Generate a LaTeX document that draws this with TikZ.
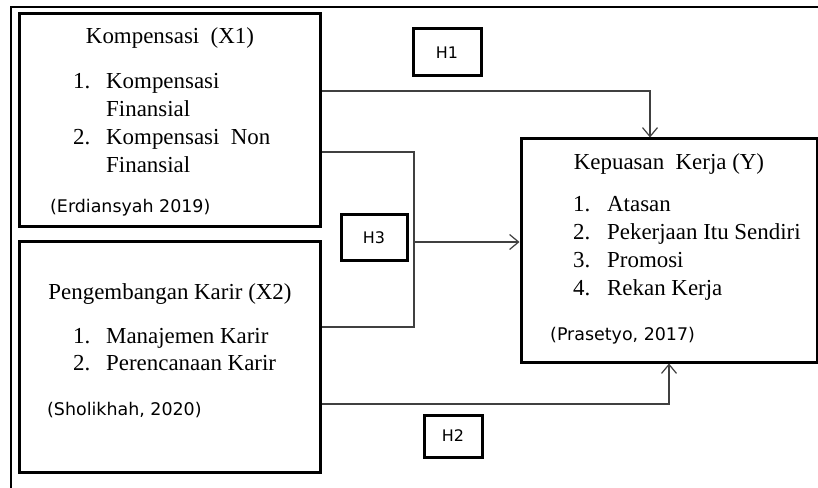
\documentclass[tikz,border=0pt]{standalone}
\usepackage{fontspec}
\setmainfont{Liberation Serif}
\newfontfamily\citefont{DejaVu Sans}
\usetikzlibrary{arrows.meta}

\begin{document}
\begin{tikzpicture}[
        x=1bp, y=-1bp,
        var/.style={rectangle, draw, line width=3bp, inner sep=0pt},
        hyp/.style={rectangle, draw, line width=3bp, font=\citefont\fontsize{16}{19}\selectfont},
        title/.style={anchor=base, inner sep=0pt, font=\fontsize{23}{28}\selectfont},
        items/.style={anchor=base west, inner sep=0pt, font=\fontsize{23}{27.8}\selectfont},
        source/.style={anchor=base west, inner sep=0pt, font=\citefont\fontsize{17.5}{21}\selectfont},
        line/.style={draw=black!75, line width=1.2bp},
        link/.style={line, -{Straight Barb[length=9bp, width=15bp]}}
    ]
    \useasboundingbox (0,0) rectangle (818,488);

    % Frame
    \draw[line width=2.5bp] (11,488) -- (11,7) -- (818,7);

    % Variables
    \node[var, minimum width=300bp, minimum height=212bp] (x1) at (170,120) {};
    \node[var, minimum width=300bp, minimum height=230bp] (x2) at (170,357) {};
    \node[var, minimum width=296bp, minimum height=223bp] (y) at (669,250.5) {};

    \node[title] (x1title) at (170,44) {Kompensasi\ \ (X1)};
    \node[items] (x1items) at (73,89) {\begin{tabular}[t]{@{}p{33bp}@{}l@{}}
        1. & Kompensasi\\ & Finansial\\ 2. & Kompensasi\ \ Non\\ & Finansial\end{tabular}};
    \node[source] (x1src) at (50,213) {(Erdiansyah 2019)};

    \node[title] (x2title) at (170,300) {Pengembangan Karir (X2)};
    \node[items] (x2items) at (73,343) {\begin{tabular}[t]{@{}p{33bp}@{}l@{}}
        1. & Manajemen Karir\\ 2. & Perencanaan Karir\end{tabular}};
    \node[source] (x2src) at (47,415) {(Sholikhah, 2020)};

    \node[title] (ytitle) at (669,170) {Kepuasan\ \ Kerja (Y)};
    \node[items] (yitems) at (573,212) {\begin{tabular}[t]{@{}p{34bp}@{}l@{}}
        1. & Atasan\\ 2. & Pekerjaan Itu Sendiri\\ 3. & Promosi\\ 4. & Rekan Kerja\end{tabular}};
    \node[source] (ysrc) at (550,340) {(Prasetyo, 2017)};

    % Hypotheses
    \node[hyp, minimum width=68bp, minimum height=47bp] (h1) at (447,52.5) {H1};
    \node[hyp, minimum width=66bp, minimum height=46bp] (h3) at (374,238) {H3};
    \node[hyp, minimum width=58bp, minimum height=42bp] (h2) at (453,436) {H2};

    % Links
    \coordinate (h1turn) at (650,91);
    \coordinate (h3top) at (414,152);
    \coordinate (h3mid) at (414,242);
    \coordinate (h3bot) at (414,327);
    \coordinate (h2turn) at (669,404);

    \draw[link] (x1.east |- h1turn) -- (h1turn) -- (y.north -| h1turn);
    \draw[line] (x1.east |- h3top) -- (h3top) -- (h3bot) -- (x2.east |- h3bot);
    \draw[link] (h3mid) -- (y.west |- h3mid);
    \draw[link] (x2.east |- h2turn) -- (h2turn) -- (y.south -| h2turn);

\end{tikzpicture}
\end{document}
